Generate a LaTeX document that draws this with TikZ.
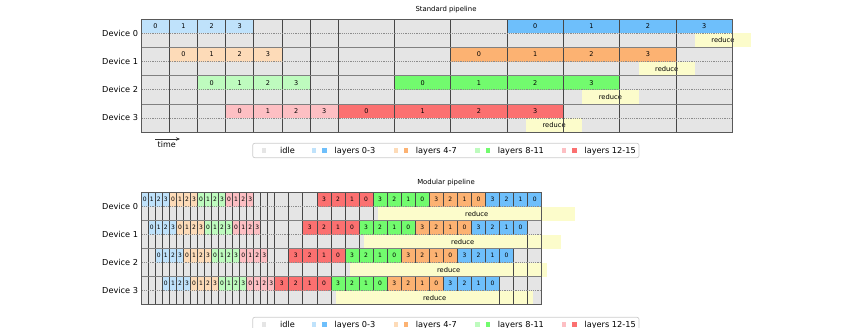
\documentclass[tikz,border=0pt]{standalone}
\usepackage{fontspec}
\setmainfont{DejaVu Sans}
\usetikzlibrary{arrows.meta}
\definecolor{idlegray}{HTML}{E5E5E5}
\definecolor{lt0}{HTML}{BFE2FB}
\definecolor{dk0}{HTML}{6EBFFB}
\definecolor{lt1}{HTML}{FDDBB8}
\definecolor{dk1}{HTML}{FCB272}
\definecolor{lt2}{HTML}{BEFBBE}
\definecolor{dk2}{HTML}{72FB6E}
\definecolor{lt3}{HTML}{FDBFC3}
\definecolor{dk3}{HTML}{FB7070}
\definecolor{redyellow}{HTML}{FCFCCB}
\tikzset{
  vline/.style={draw=black!72, line width=0.8pt},
  hline/.style={draw=black!50, line width=0.6pt},
  midline/.style={draw=black!45, line width=0.5pt, dash pattern=on 1.2pt off 1pt},
  framebox/.style={draw=black!65, line width=0.8pt},
  numlbl/.style={font=\fontsize{6.5}{7}\selectfont, inner sep=0pt},
  mnumlbl/.style={font=\fontsize{6}{7}\selectfont, inner sep=0pt},
  redlbl/.style={font=\fontsize{6.7}{7}\selectfont, inner sep=0pt},
  devlbl/.style={font=\fontsize{8.2}{9}\selectfont, anchor=east, inner sep=0pt},
  ttl/.style={font=\fontsize{6.9}{8}\selectfont, anchor=base, inner sep=0pt},
  legtext/.style={font=\fontsize{8.2}{9}\selectfont, anchor=base west, inner sep=0pt},
  legframe/.style={draw=black!20, line width=0.7pt, fill=white, rounded corners=2pt},
}
\begin{document}
\begin{tikzpicture}[x=1pt,y=-1pt]
\useasboundingbox (0,0) rectangle (843,327);

% ================= Standard pipeline =================
\node[ttl] (title1) at (446,11.5) {Standard pipeline};
\fill[idlegray] (141.3,19.3) rectangle (732,132);
\foreach \d in {0,...,3}{
  \pgfmathsetmacro\top{19.3+\d*28.17}
  \pgfmathsetmacro\mid{\top+14.085}
  \pgfmathsetmacro\bot{\top+28.17}
  % forward
  \foreach \m in {0,...,3}{
    \pgfmathsetmacro\xa{141.3+(\d+\m)*28.14}
    \pgfmathsetmacro\xb{\xa+28.14}
    \fill[lt\d] (\xa,\top) rectangle (\xb,\mid);
    \node[numlbl] (sf-\d-\m) at ({(\xa+\xb)/2},{(\top+\mid)/2}) {\m};
  }
  % backward
  \foreach \m in {0,...,3}{
    \pgfmathsetmacro\xa{141.3+(13-2*\d+2*\m)*28.14}
    \pgfmathsetmacro\xb{\xa+56.28}
    \fill[dk\d] (\xa,\top) rectangle (\xb,\mid);
    \node[numlbl] (sb-\d-\m) at ({(\xa+\xb)/2},{(\top+\mid)/2}) {\m};
  }
  % cell lines
  \foreach \t in {0,...,7}{
    \pgfmathsetmacro\x{141.3+\t*28.14}
    \draw[vline] (\x,\top) -- (\x,\bot);
  }
  \foreach \t in {9,11,...,21}{
    \pgfmathsetmacro\x{141.3+\t*28.14}
    \draw[vline] (\x,\top) -- (\x,\bot);
  }
  % reduce
  \pgfmathsetmacro\ra{141.3+(19.67-2*\d)*28.14}
  \pgfmathsetmacro\rb{\ra+56.28}
  \fill[redyellow] (\ra,\mid) rectangle (\rb,\bot);
  \node[redlbl] (sr-\d) at ({(\ra+\rb)/2},{(\mid+\bot)/2}) {reduce};
  % trailing idle cell lines
  \pgfmathtruncatemacro\ts{21-2*\d}
  \foreach \t in {15,17,19}{
    \ifnum\t<\ts\else
      \pgfmathsetmacro\x{141.3+\t*28.14}
      \draw[vline] (\x,\top) -- (\x,\bot);
    \fi
  }
  \node[devlbl] (sd-\d) at (138.3,\mid) {Device \d};
}
\foreach \d in {1,2,3}{
  \pgfmathsetmacro\y{19.3+\d*28.17}
  \draw[hline] (141.3,\y) -- (732,\y);
}
\foreach \d in {0,...,3}{
  \pgfmathsetmacro\y{19.3+\d*28.17+14.085}
  \draw[midline] (141.3,\y) -- (732,\y);
}
\draw[framebox] (141.3,19.3) rectangle (732,132);

% time arrow
\coordinate (tA) at (155,139);
\coordinate (tB) at (180,139);
\draw[black!80, line width=0.8pt, -{Stealth[length=4pt,width=3.5pt]}] (tA) -- (tB);
\node[font=\fontsize{8}{9}\selectfont, inner sep=0pt] (timelbl) at (166.7,144.6) {time};

% legend 1
\draw[legframe] (252.7,143.3) rectangle (639,157.7);
\fill[idlegray] (261.6,148.3) rectangle (266,152.7);
\fill[lt0] (312,148.3) rectangle (316.4,152.7);
\fill[dk0] (322.3,148.3) rectangle (326.7,152.7);
\fill[lt1] (393.5,148.3) rectangle (397.9,152.7);
\fill[dk1] (403.8,148.3) rectangle (408.2,152.7);
\fill[lt2] (475.1,148.3) rectangle (479.5,152.7);
\fill[dk2] (485.5,148.3) rectangle (489.9,152.7);
\fill[lt3] (561.5,148.3) rectangle (565.9,152.7);
\fill[dk3] (572.1,148.3) rectangle (576.5,152.7);
\node[legtext] (l1a) at (280,153.5) {idle};
\node[legtext] (l1b) at (334.3,153.5) {layers 0-3};
\node[legtext] (l1c) at (415.7,153.5) {layers 4-7};
\node[legtext] (l1d) at (497.7,153.5) {layers 8-11};
\node[legtext] (l1e) at (584.3,153.5) {layers 12-15};

% ================= Modular pipeline =================
\node[ttl] (title2) at (446,184.8) {Modular pipeline};
\fill[idlegray] (141.3,192.7) rectangle (541.7,304.7);
\foreach \d in {0,...,3}{
  \pgfmathsetmacro\top{192.7+\d*28.0}
  \pgfmathsetmacro\mid{\top+14}
  \pgfmathsetmacro\bot{\top+28}
  % forward
  \foreach \k in {0,...,15}{
    \pgfmathtruncatemacro\g{floor(\k/4)}
    \pgfmathtruncatemacro\l{mod(\k,4)}
    \pgfmathsetmacro\xa{141.3+(\d+\k)*7.025}
    \pgfmathsetmacro\xb{\xa+7.025}
    \fill[lt\g] (\xa,\top) rectangle (\xb,\mid);
    \node[mnumlbl] (mf-\d-\k) at ({(\xa+\xb)/2},{\top+7}) {\l};
  }
  % backward
  \foreach \j in {0,...,15}{
    \pgfmathtruncatemacro\g{3-floor(\j/4)}
    \pgfmathtruncatemacro\l{3-mod(\j,4)}
    \pgfmathsetmacro\xa{141.3+(25-2*\d+2*\j)*7.025}
    \pgfmathsetmacro\xb{\xa+14.05}
    \fill[dk\g] (\xa,\top) rectangle (\xb,\mid);
    \node[mnumlbl] (mb-\d-\j) at ({(\xa+\xb)/2},{\top+7}) {\l};
  }
  % cell lines
  \foreach \t in {0,...,19}{
    \pgfmathsetmacro\x{141.3+\t*7.025}
    \draw[vline] (\x,\top) -- (\x,\bot);
  }
  \foreach \t in {21,23,...,57}{
    \pgfmathsetmacro\x{141.3+\t*7.025}
    \draw[vline] (\x,\top) -- (\x,\bot);
  }
  % reduce
  \pgfmathsetmacro\ra{141.3+(33.7-2*\d)*7.025}
  \pgfmathsetmacro\rb{141.3+(61.8-2*\d)*7.025}
  \fill[redyellow] (\ra,\mid) rectangle (\rb,\bot);
  \node[redlbl] (mr-\d) at ({(\ra+\rb)/2},{(\mid+\bot)/2}) {reduce};
  % trailing idle cell lines
  \pgfmathtruncatemacro\ts{57-2*\d}
  \foreach \t in {51,53,55}{
    \ifnum\t<\ts\else
      \pgfmathsetmacro\x{141.3+\t*7.025}
      \draw[vline] (\x,\top) -- (\x,\bot);
    \fi
  }
  \node[devlbl] (md-\d) at (138.3,\mid) {Device \d};
}
\foreach \d in {1,2,3}{
  \pgfmathsetmacro\y{192.7+\d*28.0}
  \draw[hline] (141.3,\y) -- (541.7,\y);
}
\foreach \d in {0,...,3}{
  \pgfmathsetmacro\y{192.7+\d*28.0+14}
  \draw[midline] (141.3,\y) -- (541.7,\y);
}
\draw[framebox] (141.3,192.7) rectangle (541.7,304.7);

% legend 2
\draw[legframe] (252.7,317.3) rectangle (639,331.7);
\fill[idlegray] (261.6,322.3) rectangle (266,326.7);
\fill[lt0] (312,322.3) rectangle (316.4,326.7);
\fill[dk0] (322.3,322.3) rectangle (326.7,326.7);
\fill[lt1] (393.5,322.3) rectangle (397.9,326.7);
\fill[dk1] (403.8,322.3) rectangle (408.2,326.7);
\fill[lt2] (475.1,322.3) rectangle (479.5,326.7);
\fill[dk2] (485.5,322.3) rectangle (489.9,326.7);
\fill[lt3] (561.5,322.3) rectangle (565.9,326.7);
\fill[dk3] (572.1,322.3) rectangle (576.5,326.7);
\node[legtext] (l2a) at (280,327.5) {idle};
\node[legtext] (l2b) at (334.3,327.5) {layers 0-3};
\node[legtext] (l2c) at (415.7,327.5) {layers 4-7};
\node[legtext] (l2d) at (497.7,327.5) {layers 8-11};
\node[legtext] (l2e) at (584.3,327.5) {layers 12-15};
\end{tikzpicture}
\end{document}
